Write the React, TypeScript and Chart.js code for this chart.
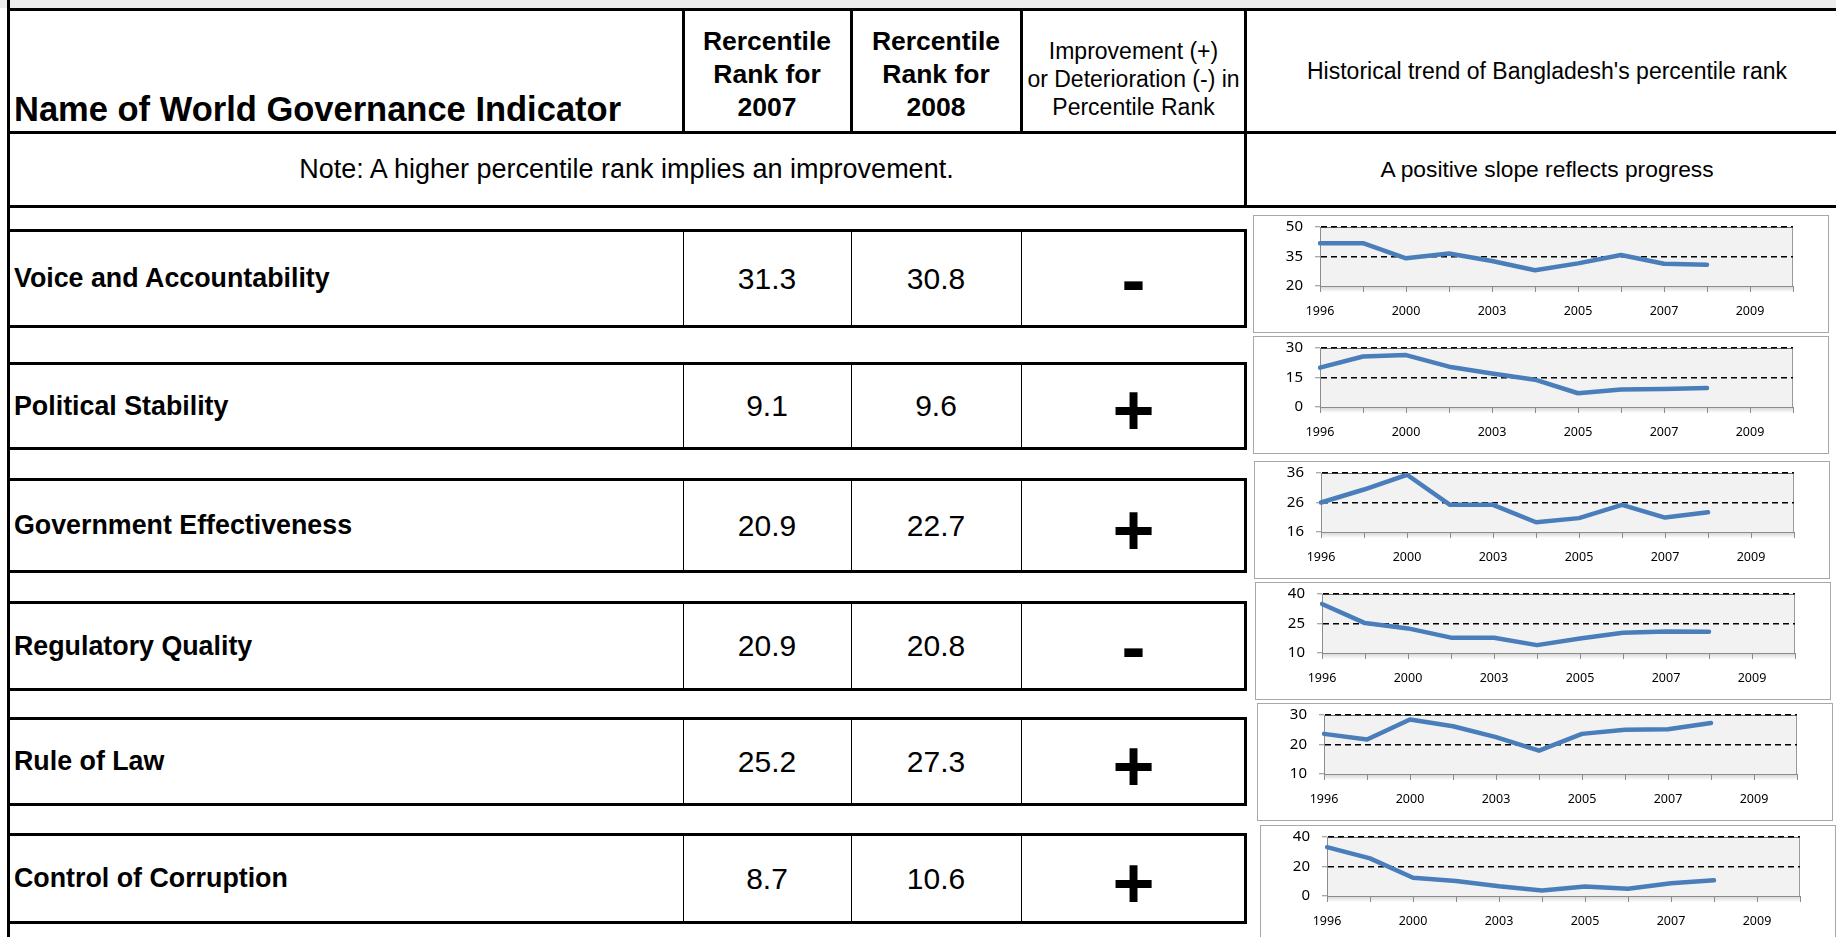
import React, { useEffect, useRef } from "react";
import { Chart, registerables } from "chart.js";

Chart.register(...registerables);

// ---------------- data ----------------
const years = ["1996", "1998", "2000", "2002", "2003", "2004", "2005", "2006", "2007", "2008", "2009", "2010"];

const indicatorNames = [
  "Voice and Accountability",
  "Political Stability",
  "Government Effectiveness",
  "Regulatory Quality",
  "Rule of Law",
  "Control of Corruption",
];
const rank2007 = ["31.3", "9.1", "20.9", "20.9", "25.2", "8.7"];
const rank2008 = ["30.8", "9.6", "22.7", "20.8", "27.3", "10.6"];
const changeSigns = ["-", "+", "+", "-", "+", "+"];

const voiceSeries = [41.8, 41.8, 34.1, 36.5, 32.7, 28.0, 31.5, 35.8, 31.3, 30.8, null, null];
const stabilitySeries = [20.0, 25.7, 26.4, 20.5, 17.0, 13.9, 7.0, 8.9, 9.1, 9.6, null, null];
const effectivenessSeries = [26.0, 30.4, 35.4, 25.2, 25.2, 19.3, 20.7, 25.2, 20.9, 22.7, null, null];
const regulatorySeries = [34.9, 25.2, 22.5, 17.8, 17.8, 14.0, 17.4, 20.3, 20.9, 20.8, null, null];
const lawSeries = [23.6, 21.7, 28.5, 26.2, 22.5, 17.9, 23.6, 25.0, 25.2, 27.3, null, null];
const corruptionSeries = [33.1, 25.5, 12.4, 10.2, 6.6, 3.7, 6.5, 4.9, 8.7, 10.6, null, null];

const voiceTicks = [20, 35, 50];
const stabilityTicks = [0, 15, 30];
const effectivenessTicks = [16, 26, 36];
const regulatoryTicks = [10, 25, 40];
const lawTicks = [10, 20, 30];
const corruptionTicks = [0, 20, 40];

const headerName = "Name of World Governance Indicator";
const header2007 = ["Rercentile", "Rank for", "2007"];
const header2008 = ["Rercentile", "Rank for", "2008"];
const headerChange = ["Improvement (+)", "or Deterioration (-) in", "Percentile Rank"];
const headerTrend = "Historical trend of Bangladesh's percentile rank";
const noteText = "Note: A higher percentile rank implies an improvement.";
const slopeText = "A positive slope reflects progress";

// ---------------- layout ----------------
const seriesList = [voiceSeries, stabilitySeries, effectivenessSeries, regulatorySeries, lawSeries, corruptionSeries];
const tickList = [voiceTicks, stabilityTicks, effectivenessTicks, regulatoryTicks, lawTicks, corruptionTicks];

const rowTops = [229, 362, 478, 601, 717, 833];
const rowBottoms = [328, 450, 573, 691, 806, 924];
const chartTops = [215, 336, 461, 582, 703, 825];
const chartLefts = [1253, 1253, 1254, 1255, 1257, 1260];
const CHART_W = 576;
const CHART_H = 118;
const PLOT_TOP = 12;
const PLOT_H = 58;
const Y_FONT = 15;

const COL_NAME_R = 683;
const COL_2007_R = 851;
const COL_2008_R = 1021;
const COL_CHG_R = 1246;
const LEFT_X = 7;

const FONT = "'Liberation Sans', Arial, Helvetica, sans-serif";
const CHART_FONT = "'Noto Sans', 'Open Sans', sans-serif";

const plotAreaPlugin = {
  id: "plotAreaBg",
  beforeDraw(chart: any) {
    const { ctx, chartArea: a } = chart;
    ctx.save();
    ctx.fillStyle = "#f2f2f2";
    ctx.fillRect(a.left, a.top, a.right - a.left, a.bottom - a.top);
    const g = ctx.createLinearGradient(0, a.bottom, 0, a.bottom + 6);
    g.addColorStop(0, "rgba(0,0,0,0.18)");
    g.addColorStop(1, "rgba(0,0,0,0)");
    ctx.fillStyle = g;
    ctx.fillRect(a.left, a.bottom, a.right - a.left, 6);
    ctx.strokeStyle = "#6e6e6e";
    ctx.lineWidth = 1;
    ctx.beginPath();
    ctx.moveTo(a.left, a.top + 0.5);
    ctx.lineTo(a.right, a.top + 0.5);
    ctx.stroke();
    ctx.strokeStyle = "#9a9a9a";
    ctx.beginPath();
    ctx.moveTo(a.right - 0.5, a.top);
    ctx.lineTo(a.right - 0.5, a.bottom);
    ctx.stroke();
    ctx.restore();
  },
};

function Sparkline(props: { values: (number | null)[]; ticks: number[]; left: number; top: number }) {
  const ref = useRef<HTMLCanvasElement>(null);
  const { values, ticks, left, top } = props;
  const cw = CHART_W - 2;
  const ch = CHART_H - 2;
  useEffect(() => {
    const chart = new Chart(ref.current as HTMLCanvasElement, {
      type: "line",
      data: {
        labels: years,
        datasets: [
          {
            data: values as any,
            borderColor: "#4A7EBB",
            borderWidth: 4.5,
            pointRadius: 0,
            borderCapStyle: "round",
            borderJoinStyle: "round",
            tension: 0,
            spanGaps: false,
            fill: false,
          },
        ],
      },
      options: {
        responsive: false,
        animation: false,
        devicePixelRatio: 1,
        events: [],
        layout: { padding: { top: PLOT_TOP - 1, right: 35, left: 0, bottom: 0 } },
        plugins: { legend: { display: false }, tooltip: { enabled: false } },
        scales: {
          x: {
            type: "category",
            offset: false,
            grid: {
              drawOnChartArea: false,
              drawTicks: true,
              tickLength: 6,
              tickColor: "#8c8c8c",
              tickWidth: 1,
            },
            border: { display: true, color: "#8c8c8c", width: 1 },
            ticks: {
              autoSkip: false,
              maxRotation: 0,
              minRotation: 0,
              padding: 12,
              color: "#000",
              font: { family: CHART_FONT, size: 12.5 },
              callback: (_v: any, i: number) => (i % 2 === 0 ? years[i] : ""),
            },
            afterFit: (s: any) => {
              s.height = ch - PLOT_TOP - PLOT_H;
              s.paddingLeft = 0;
              s.paddingRight = 0;
            },
          },
          y: {
            min: ticks[0],
            max: ticks[2],
            afterBuildTicks: (s: any) => {
              s.ticks = ticks.map((v) => ({ value: v }));
            },
            grid: {
              color: (c: any) => (c.index === 0 ? "rgba(0,0,0,0)" : "#000"),
              lineWidth: 1.5,
              drawTicks: true,
              tickLength: 5,
              tickColor: "#8c8c8c",
              tickWidth: 1,
            },
            border: { display: true, color: "#8c8c8c", width: 1, dash: [6, 4] },
            ticks: {
              padding: 12,
              color: "#000",
              font: { family: CHART_FONT, size: Y_FONT },
            },
            afterFit: (s: any) => {
              s.width = 66;
              s.paddingTop = 0;
              s.paddingBottom = 0;
            },
          },
        },
      } as any,
      plugins: [plotAreaPlugin],
    });
    return () => chart.destroy();
  }, []);
  return (
    <div
      style={{
        position: "absolute",
        left,
        top,
        width: CHART_W,
        height: CHART_H,
        border: "1px solid #a8a8a8",
        boxSizing: "border-box",
        background: "#fff",
      }}
    >
      <canvas ref={ref} width={cw} height={ch} style={{ display: "block", width: cw, height: ch }} />
    </div>
  );
}

function Box(props: { x: number; y: number; w: number; h: number; style?: any; children?: any }) {
  return (
    <div
      style={{
        position: "absolute",
        left: props.x,
        top: props.y,
        width: props.w,
        height: props.h,
        boxSizing: "border-box",
        ...(props.style || {}),
      }}
    >
      {props.children}
    </div>
  );
}

function Line(props: { x: number; y: number; w: number; h: number }) {
  return <Box x={props.x} y={props.y} w={props.w} h={props.h} style={{ background: "#000" }} />;
}

function CenterText(props: { x: number; y: number; w: number; h: number; size: number; bold?: boolean; lh?: number; lines: string[]; dy?: number }) {
  return (
    <Box
      x={props.x}
      y={props.y + (props.dy || 0)}
      w={props.w}
      h={props.h}
      style={{
        display: "flex",
        flexDirection: "column",
        alignItems: "center",
        justifyContent: "center",
        fontFamily: FONT,
        fontSize: props.size,
        fontWeight: props.bold ? "bold" : "normal",
        lineHeight: props.lh ? props.lh + "px" : "normal",
        color: "#000",
        whiteSpace: "nowrap",
        textAlign: "center",
      }}
    >
      {props.lines.map((l, i) => (
        <div key={i}>{l}</div>
      ))}
    </Box>
  );
}

export default function App() {
  const W = 1836;
  const H = 937;
  return (
    <div
      style={{
        position: "fixed",
        left: 0,
        top: 0,
        width: W,
        height: H,
        background: "#fff",
        overflow: "hidden",
      }}
    >
      {/* top strip */}
      <Box x={0} y={0} w={W} h={8} style={{ background: "#ececec" }} />
      {/* left border */}
      <Line x={LEFT_X} y={0} w={3} h={H} />
      {/* header lines */}
      <Line x={LEFT_X} y={8} w={W} h={3} />
      <Line x={LEFT_X} y={131} w={W} h={3} />
      <Line x={LEFT_X} y={205} w={W} h={3} />
      <Line x={COL_NAME_R - 1} y={8} w={3} h={126} />
      <Line x={COL_2007_R - 1} y={8} w={3} h={126} />
      <Line x={COL_2008_R - 1} y={8} w={3} h={126} />
      <Line x={COL_CHG_R - 2} y={8} w={3} h={200} />

      {/* header texts */}
      <Box
        x={14}
        y={89}
        w={660}
        h={40}
        style={{ fontFamily: FONT, fontWeight: "bold", fontSize: 34.5, lineHeight: "40px", whiteSpace: "nowrap" }}
      >
        {headerName}
      </Box>
      <CenterText x={COL_NAME_R} y={25} w={COL_2007_R - COL_NAME_R} h={99} size={26.5} bold lh={33} lines={header2007} />
      <CenterText x={COL_2007_R} y={25} w={COL_2008_R - COL_2007_R} h={99} size={26.5} bold lh={33} lines={header2008} />
      <CenterText x={COL_2008_R} y={37} w={COL_CHG_R - COL_2008_R} h={84} size={23} lh={28} lines={headerChange} />
      <CenterText x={COL_CHG_R} y={51} w={602} h={40} size={23} lines={[headerTrend]} />
      <CenterText x={LEFT_X} y={134} w={COL_CHG_R - LEFT_X} h={71} size={27} lines={[noteText]} />
      <CenterText x={COL_CHG_R} y={134} w={602} h={71} size={22.8} lines={[slopeText]} />

      {/* data rows */}
      {indicatorNames.map((name, i) => {
        const t = rowTops[i];
        const h = rowBottoms[i] - rowTops[i];
        return (
          <React.Fragment key={name}>
            <Box x={LEFT_X} y={t} w={COL_CHG_R - LEFT_X + 1} h={h} style={{ border: "3px solid #000" }} />
            <Line x={COL_NAME_R} y={t} w={1} h={h} />
            <Line x={COL_2007_R} y={t} w={1} h={h} />
            <Line x={COL_2008_R} y={t} w={1} h={h} />
            <Box
              x={14}
              y={t}
              w={COL_NAME_R - 20}
              h={h}
              style={{
                display: "flex",
                alignItems: "center",
                fontFamily: FONT,
                fontWeight: "bold",
                fontSize: 26.8,
                whiteSpace: "nowrap",
              }}
            >
              {name}
            </Box>
            <CenterText x={COL_NAME_R} y={t} w={COL_2007_R - COL_NAME_R} h={h} size={30} lines={[rank2007[i]]} />
            <CenterText x={COL_2007_R} y={t} w={COL_2008_R - COL_2007_R} h={h} size={30} lines={[rank2008[i]]} />
            <CenterText
              x={COL_2008_R}
              y={t}
              w={COL_CHG_R - COL_2008_R}
              h={h}
              size={72}
              bold
              lh={72}
              dy={changeSigns[i] === "+" ? 4 : 0}
              lines={[changeSigns[i]]}
            />
          </React.Fragment>
        );
      })}

      {/* sparklines */}
      {seriesList.map((s, i) => (
        <Sparkline key={i} values={s} ticks={tickList[i]} left={chartLefts[i]} top={chartTops[i]} />
      ))}
    </div>
  );
}
